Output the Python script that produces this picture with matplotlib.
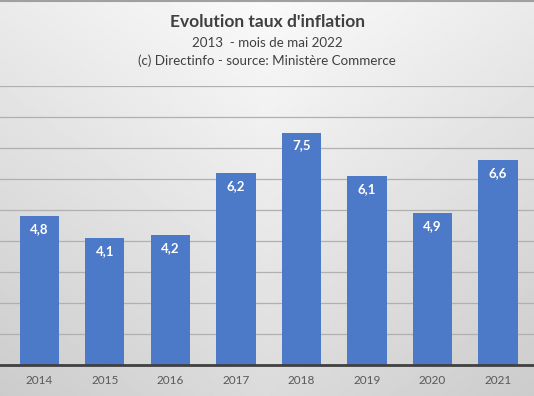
import numpy as np
import matplotlib
matplotlib.use('Agg')
import matplotlib.pyplot as plt

years = ['2014', '2015', '2016', '2017', '2018', '2019', '2020', '2021']
inflation = [4.8, 4.1, 4.2, 6.2, 7.5, 6.1, 4.9, 6.6]

plt.rcParams['font.family'] = ['Lato', 'DejaVu Sans']

fig = plt.figure(figsize=(5.34, 3.96), dpi=100)

# soft gray gradient background, lighter at the top centre
bg = fig.add_axes([0, 0, 1, 1], zorder=0)
yy, xx = np.mgrid[0:1:200j, 0:1:200j]
shade = 0.98 - 0.12 * yy - 0.06 * np.abs(xx - 0.5) * 2
bg.imshow(shade, cmap='gray', vmin=0, vmax=1, extent=[0, 1, 0, 1], aspect='auto', origin='upper')
bg.axhline(0.997, color='#a0a0a0', linewidth=1.5)
bg.axis('off')

ax = fig.add_axes([0, 31 / 396, 1, 279 / 396], zorder=1)
ax.patch.set_alpha(0)
x = np.arange(len(years))
bars = ax.bar(x, inflation, width=0.6, color='#4d79c9', zorder=2)
for b, v in zip(bars, inflation):
    ax.text(b.get_x() + b.get_width() / 2, v - 0.42, f'{v:.1f}'.replace('.', ','),
            ha='center', va='center', color='white', fontsize=9.5, fontweight='bold', zorder=3)

ax.set_ylim(0, 9)
ax.set_xlim(-0.6, 7.55)
ax.set_yticks(range(1, 10))
ax.yaxis.grid(True, color='#b0b0b0', linewidth=0.9)
ax.set_axisbelow(True)
ax.tick_params(axis='y', left=False, labelleft=False)
ax.tick_params(axis='x', length=0, pad=7, labelsize=8.5, labelcolor='#595959')
ax.set_xticks(x)
ax.set_xticklabels(years)
for s in ['top', 'left', 'right']:
    ax.spines[s].set_visible(False)
ax.spines['bottom'].set_color('#404040')
ax.spines['bottom'].set_linewidth(2)

fig.text(0.5, 1 - 22 / 396, "Evolution taux d'inflation", ha='center', va='center',
         fontsize=12.5, fontweight='bold', color='#404040')
fig.text(0.5, 1 - 43 / 396, '2013  - mois de mai 2022', ha='center', va='center',
         fontsize=9.6, color='#404040')
fig.text(0.5, 1 - 61 / 396, '(c) Directinfo - source: Ministère Commerce', ha='center', va='center',
         fontsize=9.6, color='#404040')

fig.savefig('out.png', dpi=100)
